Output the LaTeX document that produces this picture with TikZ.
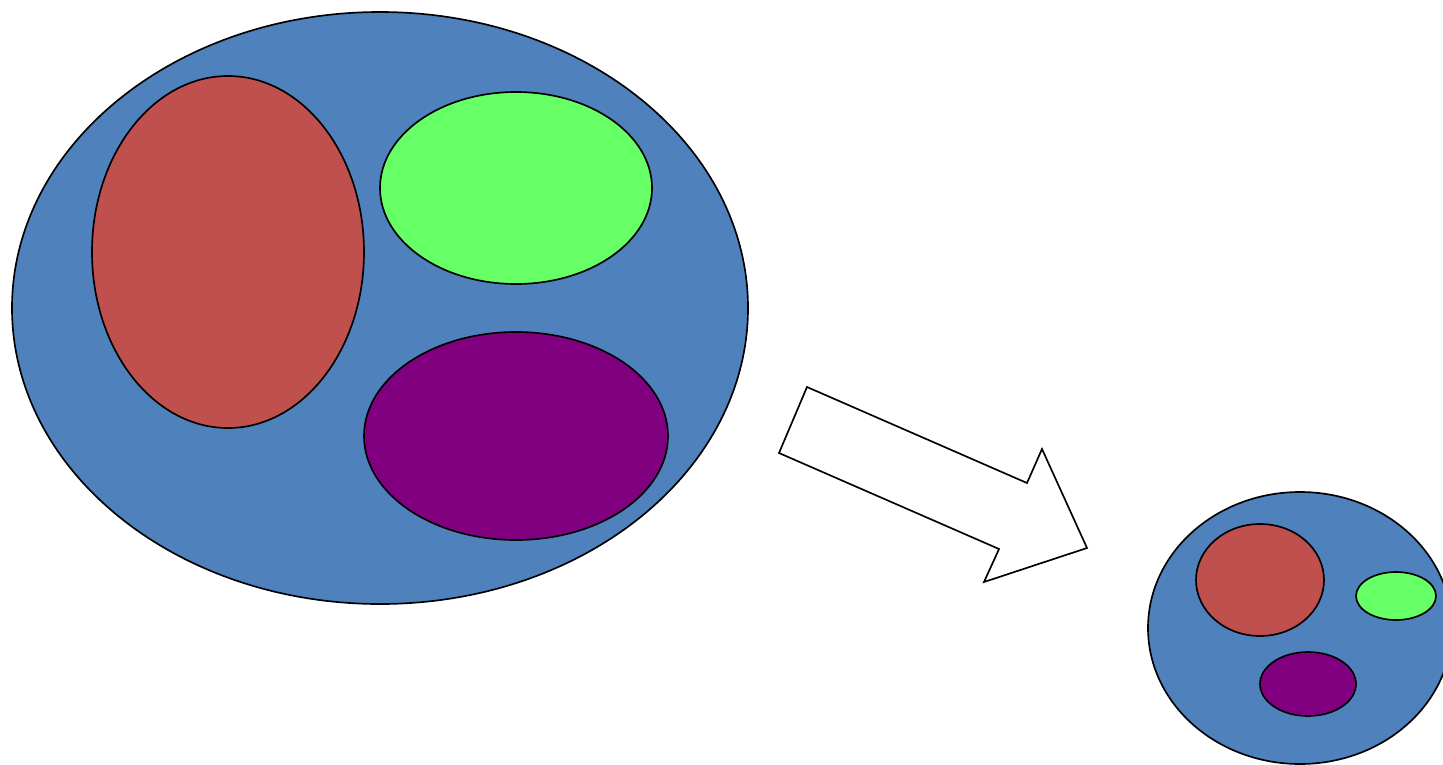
\documentclass[tikz,border=0pt]{standalone}
\usepackage{xcolor}
\definecolor{setblue}{RGB}{79,129,189}
\definecolor{setred}{RGB}{192,80,77}
\definecolor{setgreen}{RGB}{102,255,102}
\definecolor{setpurple}{RGB}{128,0,128}

\begin{document}
\begin{tikzpicture}[
  x=0.02cm, y=-0.02cm,
  blob/.style={draw=black, line width=0.95pt},
  bigarrow/.style={draw=black, fill=white, line width=0.95pt, line join=miter}
]
\useasboundingbox (0,0) rectangle (1443,764);
\clip (0,0) rectangle (1443,764);

% large set
\draw[blob, fill=setblue]   (380,308) ellipse [x radius=368, y radius=296];
\draw[blob, fill=setred]    (228,252) ellipse [x radius=136, y radius=176];
\draw[blob, fill=setgreen]  (516,188) ellipse [x radius=136, y radius=96];
\draw[blob, fill=setpurple] (516,436) ellipse [x radius=152, y radius=104];

% block arrow
\draw[bigarrow] (807,387) -- (1027,483) -- (1042,449) -- (1087,548)
  -- (984,582) -- (999,549) -- (779,453) -- cycle;

% small set
\draw[blob, fill=setblue]   (1300,628) ellipse [x radius=152, y radius=136];
\draw[blob, fill=setred]    (1260,580) ellipse [x radius=64, y radius=56];
\draw[blob, fill=setgreen]  (1396,596) ellipse [x radius=40, y radius=24];
\draw[blob, fill=setpurple] (1308,684) ellipse [x radius=48, y radius=32];
\end{tikzpicture}
\end{document}
